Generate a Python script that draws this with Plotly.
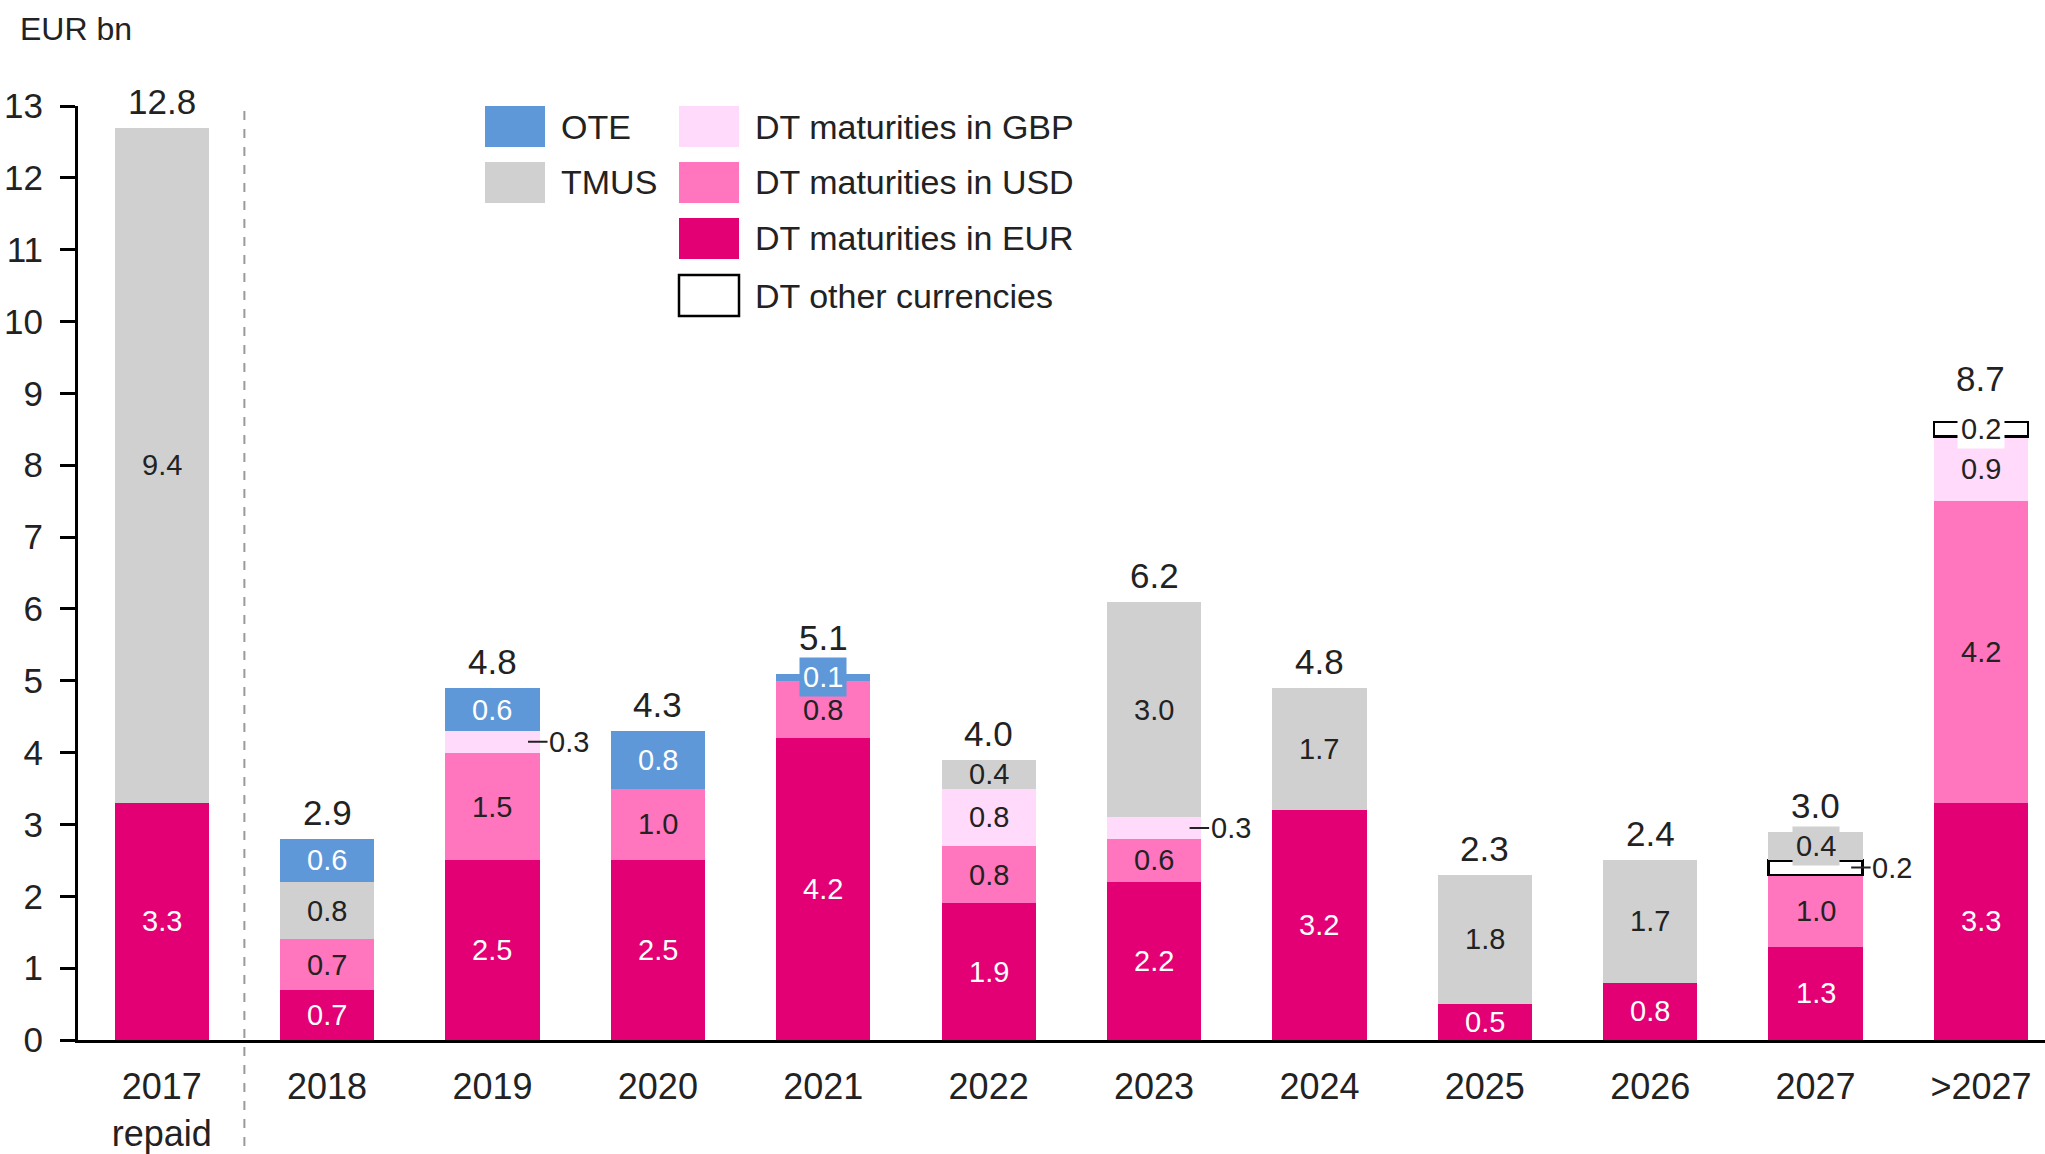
import plotly.graph_objects as go

# ---------------- data ----------------
categories = ["2017<br>repaid", "2018", "2019", "2020", "2021", "2022",
              "2023", "2024", "2025", "2026", "2027", ">2027"]
dt_eur = [3.3, 0.7, 2.5, 2.5, 4.2, 1.9, 2.2, 3.2, 0.5, 0.8, 1.3, 3.3]
dt_usd = [0, 0.7, 1.5, 1.0, 0.8, 0.8, 0.6, 0, 0, 0, 1.0, 4.2]
dt_gbp = [0, 0, 0.3, 0, 0, 0.8, 0.3, 0, 0, 0, 0, 0.9]
dt_other = [0, 0, 0, 0, 0, 0, 0, 0, 0, 0, 0.2, 0.2]
tmus = [9.4, 0.8, 0, 0, 0, 0.4, 3.0, 1.7, 1.8, 1.7, 0.4, 0]
ote = [0, 0.6, 0.6, 0.8, 0.1, 0, 0, 0, 0, 0, 0, 0]
totals = [12.8, 2.9, 4.8, 4.3, 5.1, 4.0, 6.2, 4.8, 2.3, 2.4, 3.0, 8.7]
y_ticks = list(range(0, 14))

# ---------------- styling ----------------
FONT = "Liberation Sans, Arial, sans-serif"
TXT = "#222222"
C_OTE = "#5E98D9"
C_TMUS = "#D0D0D0"
C_GBP = "#FFDAFA"
C_USD = "#FF75BE"
C_EUR = "#E20074"

W, H = 2045, 1154
ML, MR, MT, MB = 78, 0, 106, 114
PW, PH = W - ML - MR, H - MT - MB
BAR_W = 0.57


def px(x):
    return (x - ML) / PW


def py(y):
    return (H - MB - y) / PH


series = [
    ("DT maturities in EUR", dt_eur, C_EUR, "white", None),
    ("DT maturities in USD", dt_usd, C_USD, TXT, None),
    ("DT maturities in GBP", dt_gbp, C_GBP, TXT, None),
    ("DT other currencies", dt_other, "white", TXT, dict(color="black", width=2.5)),
    ("TMUS", tmus, C_TMUS, TXT, None),
    ("OTE", ote, C_OTE, "white", None),
]

# special label treatments (style only)
callout_right = {("DT maturities in GBP", 2), ("DT maturities in GBP", 6),
                 ("DT other currencies", 10)}
boxed = {("OTE", 4): C_OTE, ("TMUS", 10): C_TMUS, ("DT other currencies", 11): "white"}
total_extra_shift = {4: 10, 11: 17}

fig = go.Figure()
annotations = []
base = [0.0] * len(categories)

for name, vals, color, tcolor, line in series:
    yv = [v if v else None for v in vals]
    fig.add_trace(go.Bar(
        x=categories, y=yv, name=name,
        marker=dict(color=color, line=line if line else dict(width=0)),
        width=BAR_W, showlegend=False, hoverinfo="skip",
    ))
    for i, v in enumerate(vals):
        if not v:
            continue
        mid = base[i] + v / 2
        key = (name, i)
        lbl = f"{v:.1f}"
        if key in callout_right:
            annotations.append(dict(
                x=i + BAR_W / 2 - 0.07, y=mid, xref="x", yref="y", text=lbl,
                showarrow=True, arrowhead=0, arrowwidth=2, arrowcolor=TXT,
                ax=41, ay=0, font=dict(family=FONT, size=29, color=TXT)))
        elif key in boxed:
            annotations.append(dict(
                x=i, y=mid, xref="x", yref="y", text=lbl, showarrow=False,
                bgcolor=boxed[key], borderpad=3,
                font=dict(family=FONT, size=29, color=tcolor)))
        else:
            annotations.append(dict(
                x=i, y=mid, xref="x", yref="y", text=lbl, showarrow=False,
                font=dict(family=FONT, size=29, color=tcolor)))
        base[i] += v

# totals
for i, t in enumerate(totals):
    annotations.append(dict(
        x=i, y=base[i], xref="x", yref="y", text=f"{t:.1f}", showarrow=False,
        yanchor="bottom", yshift=5 + total_extra_shift.get(i, 0),
        font=dict(family=FONT, size=35, color=TXT)))

# unit label
annotations.append(dict(
    x=px(18), y=py(29), xref="paper", yref="paper", text="EUR bn",
    showarrow=False, xanchor="left", yanchor="middle",
    font=dict(family=FONT, size=32, color=TXT)))

# manual legend
shapes = []
legend_items = [
    ("OTE", C_OTE, 0, 0, None),
    ("TMUS", C_TMUS, 0, 1, None),
    ("DT maturities in GBP", C_GBP, 1, 0, None),
    ("DT maturities in USD", C_USD, 1, 1, None),
    ("DT maturities in EUR", C_EUR, 1, 2, None),
    ("DT other currencies", "white", 1, 3, "black"),
]
col_x = [485, 679]
row_y = [106, 162, 218, 275]
SW, SH = 60, 41
for label, color, c, r, border in legend_items:
    x0, y0 = col_x[c], row_y[r]
    shapes.append(dict(
        type="rect", xref="paper", yref="paper",
        x0=px(x0), x1=px(x0 + SW), y0=py(y0 + SH), y1=py(y0),
        fillcolor=color,
        line=dict(color=border if border else color, width=2.5 if border else 0)))
    annotations.append(dict(
        x=px(x0 + SW + 14), y=py(y0 + SH / 2), xref="paper", yref="paper",
        text=label, showarrow=False, xanchor="left", yanchor="middle",
        font=dict(family=FONT, size=34, color=TXT)))

# dashed separator between 2017 repaid and 2018
shapes.append(dict(
    type="line", xref="x", yref="paper", x0=0.5, x1=0.5,
    y0=py(1146), y1=py(104), line=dict(color="#9A9A9A", width=2, dash="dash")))

fig.update_layout(
    width=W, height=H, barmode="stack",
    margin=dict(l=ML, r=MR, t=MT, b=MB, pad=0, autoexpand=False),
    plot_bgcolor="white", paper_bgcolor="white",
    font=dict(family=FONT, color=TXT),
    annotations=annotations, shapes=shapes, showlegend=False,
    xaxis=dict(
        type="category", range=[-0.506, 11.387], showline=True,
        linecolor="black", linewidth=3, ticks="", showgrid=False,
        tickfont=dict(family=FONT, size=36, color=TXT),
        ticklabelstandoff=13, fixedrange=True, automargin=False,
    ),
    yaxis=dict(
        range=[0, 13], tickvals=y_ticks, showline=True, linecolor="black",
        linewidth=3, ticks="outside", ticklen=15, tickwidth=3,
        tickcolor="black", showgrid=False, zeroline=False,
        tickfont=dict(family=FONT, size=35, color=TXT),
        ticklabelstandoff=10, fixedrange=True, automargin=False,
    ),
)

fig.write_html(
    "out.html",
    config={"displayModeBar": False},
    post_script="document.body.style.margin='0';document.body.style.overflow='hidden';",
)
